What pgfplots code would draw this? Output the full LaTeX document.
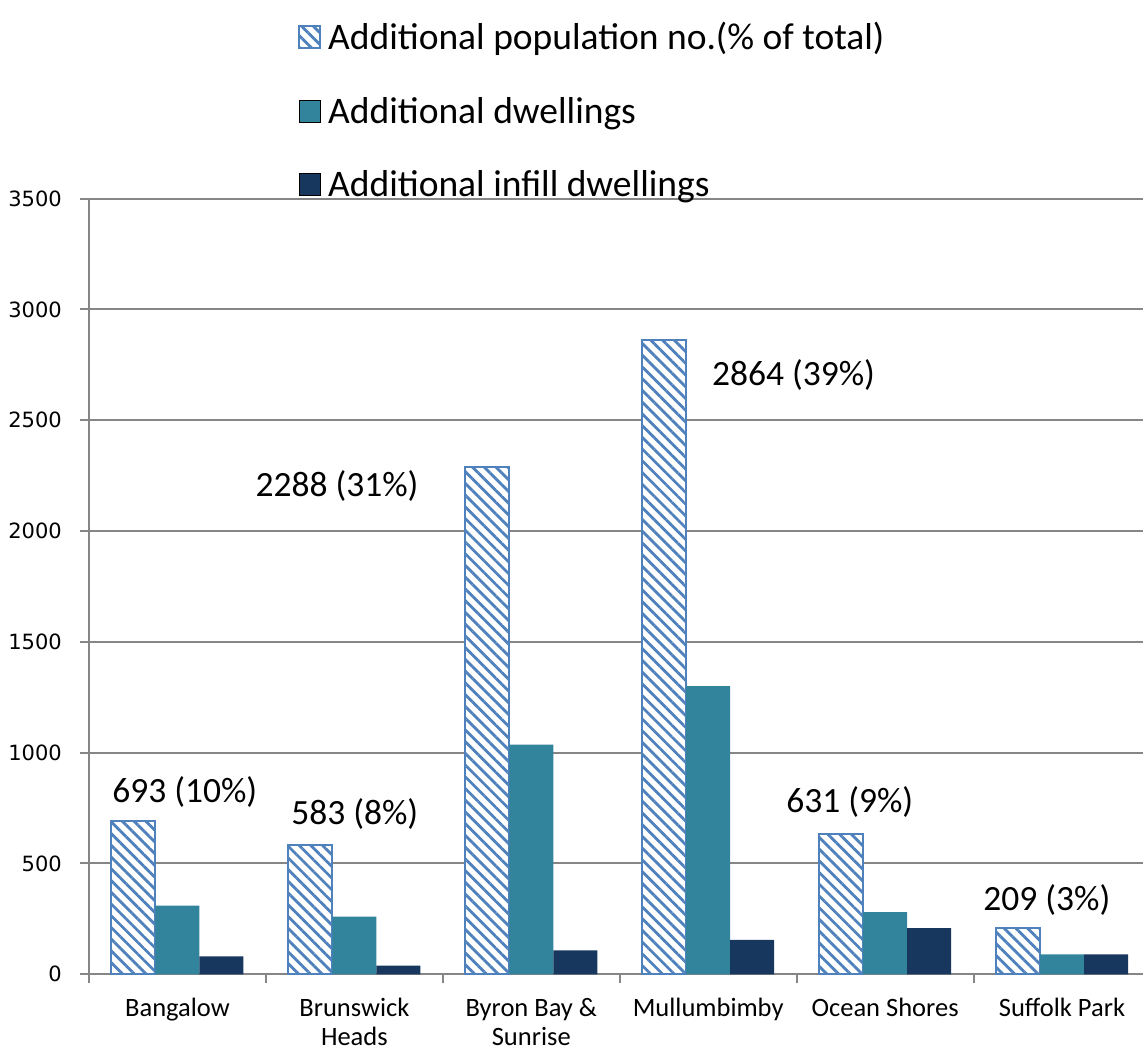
\documentclass[border=0pt]{standalone}
\usepackage{pgfplots}
\pgfplotsset{compat=1.18}
\usepackage{fontspec}
\setmainfont{Carlito}
\newfontfamily\dejavu{DejaVu Sans}
\usetikzlibrary{patterns.meta}
\definecolor{hatchblue}{HTML}{4F81BD}
\definecolor{tealbar}{HTML}{31849B}
\definecolor{navybar}{HTML}{17375E}
\definecolor{gridgray}{HTML}{868686}
\pgfplotsset{sqlegend/.style={legend image code/.code={\draw[##1] (0pt,-11pt) rectangle (21pt,11pt);}}}
\begin{document}
\begin{tikzpicture}
\path[use as bounding box] (0,0) rectangle (1143pt,1051pt);
\begin{axis}[
  at={(89pt,76.7pt)}, anchor=south west,
  scale only axis, width=1054pt, height=775.6pt,
  ybar=0pt, bar width=44pt,
  xmin=-0.5, xmax=5.458, ymin=0, ymax=3500,
  axis lines=left,
  axis line style={-, draw=gridgray, line width=2pt},
  tick align=outside,
  tick style={draw=gridgray, line width=2pt},
  major tick length=9pt,
  ytick={0,500,...,3500},
  ymajorgrids, grid style={draw=gridgray, line width=2pt},
  xtick={-0.5,0.5,...,4.5},
  xticklabels={},
  extra x ticks={0,1,2,3,4,5},
  extra x tick labels={Bangalow, Brunswick\\Heads, Byron Bay \&\\Sunrise, Mullumbimby, Ocean Shores, Suffolk Park},
  extra x tick style={major tick length=0pt, grid=none},
  xticklabel style={font=\fontsize{26.5}{28.5}\selectfont, align=center, anchor=north, inner sep=0pt, yshift=-24pt},
  yticklabel style={font=\dejavu\fontsize{21}{25}\selectfont, anchor=east, inner sep=0pt, xshift=-18pt},
  /pgf/number format/assume math mode=true,
  /pgf/number format/1000 sep={},
  legend cell align=left,
  legend style={at={(0.1983,1.2304)}, anchor=north west, draw=none, fill=none,
    font=\fontsize{37.5}{44}\selectfont, row sep=42pt, inner sep=0pt,
    /tikz/every odd column/.append style={column sep=5pt}},
  clip=false,
]
\addplot[draw=hatchblue, line width=2pt, preaction={fill=white},
  pattern={Lines[angle=-45,distance=8.3pt,line width=2.8pt]}, pattern color=hatchblue, sqlegend]
  coordinates {(0,693) (1,583) (2,2288) (3,2864) (4,631) (5,209)};
\addplot[draw=none, fill=tealbar, sqlegend]
  coordinates {(0,310) (1,260) (2,1036) (3,1300) (4,281) (5,90)};
\addplot[draw=none, fill=navybar, sqlegend]
  coordinates {(0,81) (1,39) (2,108) (3,155) (4,208) (5,90)};
\legend{Additional population no.(\% of total), Additional dwellings, Additional infill dwellings}
\begin{scope}[every node/.style={font=\fontsize{35.5}{41}\selectfont, anchor=base, inner sep=0pt}]
\node at (axis cs:0.041,773) {693 (10\%)};
\node at (axis cs:1.002,674) {583 (8\%)};
\node at (axis cs:0.902,2155) {2288 (31\%)};
\node at (axis cs:3.482,2656) {2864 (39\%)};
\node at (axis cs:3.80,729) {631 (9\%)};
\node at (axis cs:4.914,290) {209 (3\%)};
\end{scope}
\end{axis}
\end{tikzpicture}
\end{document}
